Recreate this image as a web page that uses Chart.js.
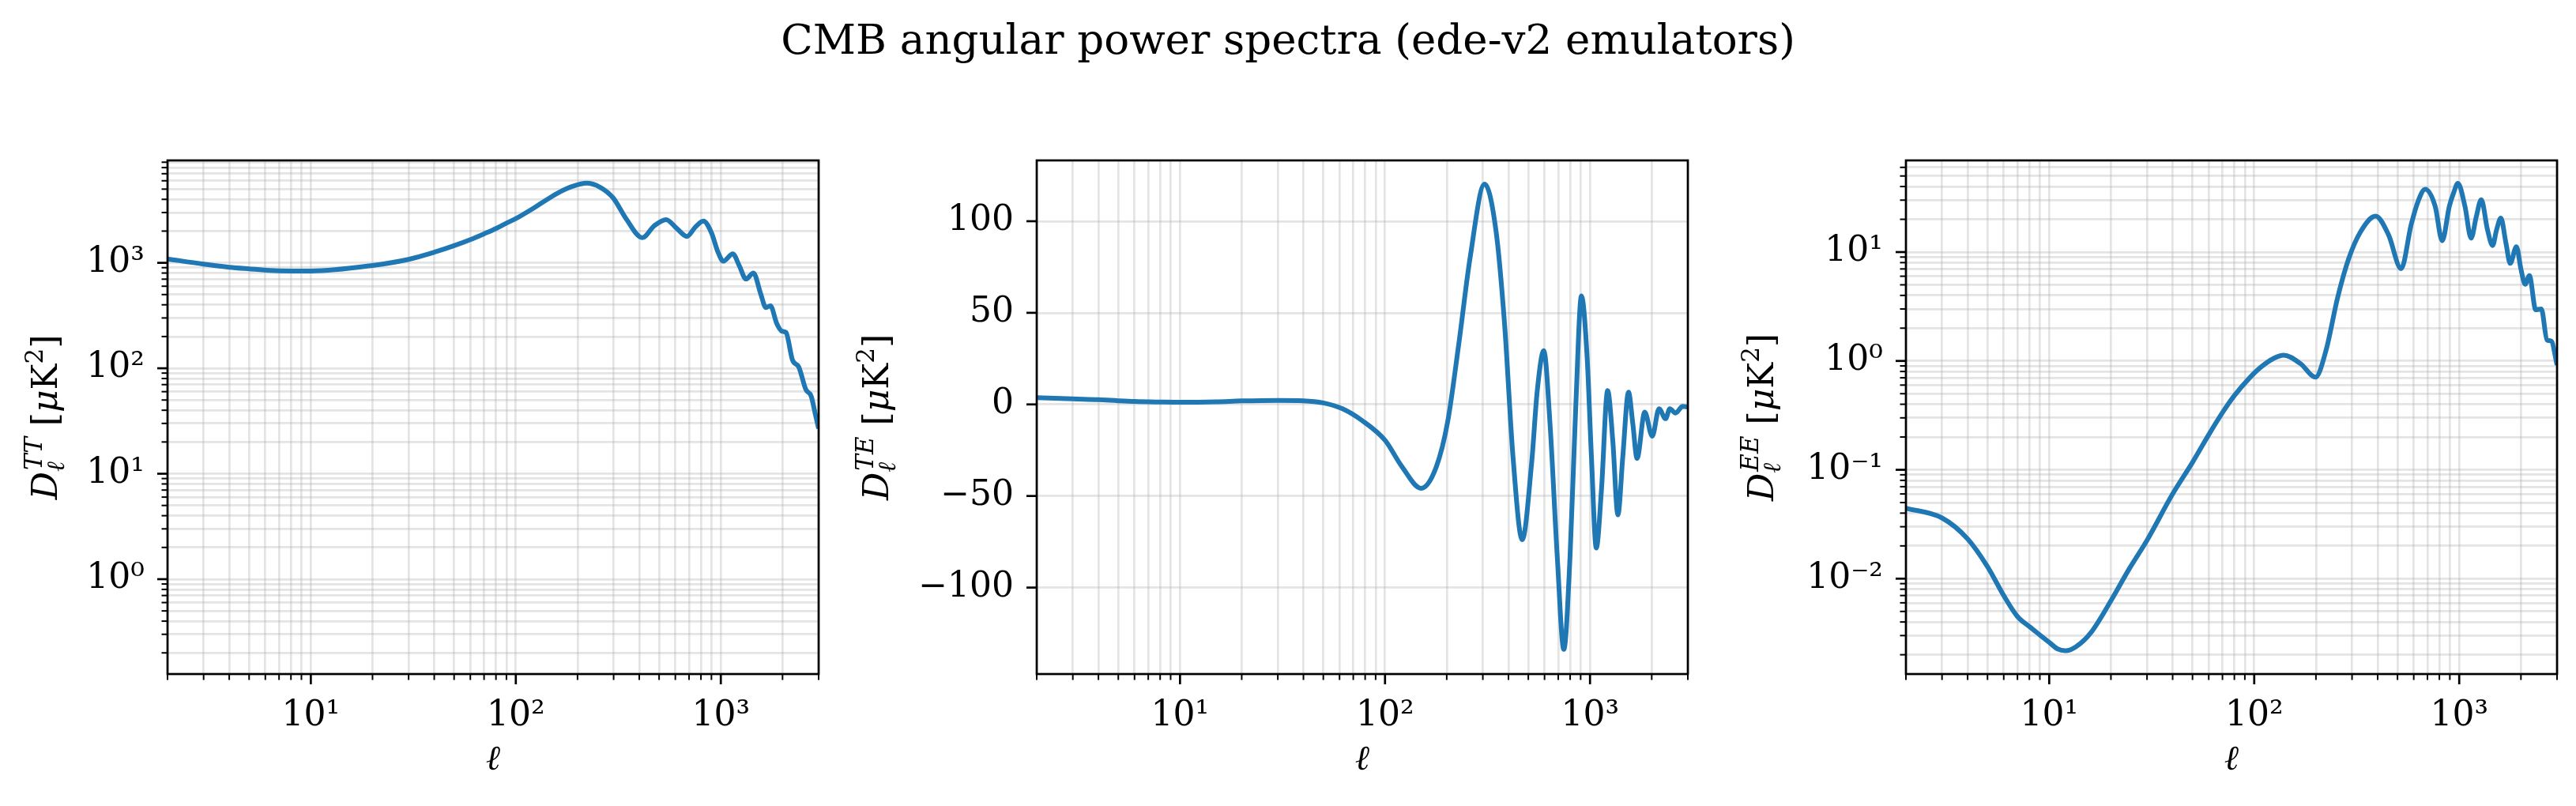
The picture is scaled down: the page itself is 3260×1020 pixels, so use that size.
<!DOCTYPE html>
<html>
<head>
<meta charset="utf-8">
<script src="https://cdn.jsdelivr.net/npm/chart.js@4.4.1/dist/chart.umd.min.js"></script>
<style>
  html, body { margin: 0; padding: 0; background: #fff; }
  #fig { position: relative; width: 3260px; height: 1020px; background: #fff; overflow: hidden; }
  #suptitle { position: absolute; left: 0; top: 23px; width: 3260px; text-align: center;
              font-family: 'DejaVu Serif'; font-size: 53px; line-height: 53px; color: #000; }
  .panel { position: absolute; top: 183px; width: 1114px; height: 837px; }
</style>
</head>
<body>
<div id="fig">
  <div id="suptitle">CMB angular power spectra (ede-v2 emulators)</div>
  <div class="panel" style="left:-48px"><canvas id="tt" width="1114" height="837"></canvas></div>
  <div class="panel" style="left:1052px"><canvas id="te" width="1114" height="837"></canvas></div>
  <div class="panel" style="left:2152px"><canvas id="ee" width="1114" height="837"></canvas></div>
</div>
<script>
// values
const ellTT = [2, 3, 4, 5, 7, 10, 20, 30, 40, 50, 60, 70, 80, 90, 100, 121.5, 141, 164, 190, 221, 257, 298, 346,
  414, 473, 541, 610, 683, 751, 822, 899, 970, 1029, 1143, 1231, 1327, 1443, 1564, 1660, 1746, 1871, 1986, 2078,
  2239, 2399, 2600, 2760, 2886, 3000];
const dTT = [1090, 973, 908, 878, 841, 837, 944, 1079, 1260, 1454, 1661, 1884, 2114, 2377, 2625, 3280, 3950, 4700, 5330, 5689, 5223, 4140, 2600,
  1730, 2244, 2571, 2119, 1780, 2183, 2495, 1941, 1256, 1037, 1219, 938, 702, 802, 510, 377, 392, 268, 225, 219,
  119, 103, 62.8, 54.3, 37.2, 26.8];

const ellTE = [2, 3, 4, 5, 6, 8, 10, 15, 20, 30, 40, 50, 62, 77, 100, 121, 150, 178, 202, 229, 260, 306, 348, 383,
  421, 467, 519, 553, 595, 638, 692, 745, 799, 852, 908, 968, 1016, 1073, 1137, 1219, 1291, 1368, 1445, 1541,
  1617, 1696, 1849, 2011, 2171, 2336, 2450, 2612, 2831, 3000];
const dTE = [3.7, 3.0, 2.6, 2.0, 1.6, 1.3, 1.15, 1.4, 1.9, 2.2, 2.0, 0.8, -2.4, -8.7, -19.6, -34, -45.8, -34, -9.6, 33, 80, 120.3, 94.6, 43.8,
  -28.6, -73.9, -32, 7.6, 29.3, -10.5, -83, -133.7, -83, -1.4, 59.2, 25.7, -28.6, -78.4, -46.7, 7.6, -19.6, -60.3, -28.6, 6.7,
  -10.5, -29.5, -4.2, -17.4, -2.4, -7.8, -2.4, -4.7, -1.1, -1.4];

const ellEE = [2, 3, 4, 5, 6, 7, 8, 9, 10, 11, 12, 13.5, 16, 20, 24.5, 30, 40, 50, 60, 70, 80, 95, 108, 125, 139, 168, 199,
  224, 255, 289, 329, 391, 452, 521, 583, 631, 682, 763, 826, 895, 938, 985, 1066, 1143, 1211, 1281, 1374, 1455, 1521,
  1596, 1690, 1773, 1901, 2000, 2098, 2200, 2361, 2515, 2680, 2812, 3000];
const dEE = [0.0444, 0.0361, 0.0232, 0.0129, 0.0070, 0.00449, 0.00363, 0.00304, 0.0026, 0.00226, 0.00218, 0.00237, 0.00321, 0.00627, 0.0122, 0.0225, 0.060, 0.117, 0.21, 0.335, 0.48, 0.70, 0.88, 1.06, 1.13, 0.946, 0.71,
  1.25, 3.79, 8.7, 15.2, 21.4, 14.4, 7.05, 17.9, 29.5, 37.8, 26.4, 12.7, 26.4, 34.8, 42.8, 26.4, 13.4, 21.1, 30.3, 16.0, 11.5, 16.0,
  20.5, 12.1, 7.87, 11.2, 6.97, 5.06, 6.07, 2.95, 3.0, 1.56, 1.52, 0.92];

// tick labels
const xTickValues = [10, 100, 1000];
const xTickLabels = ['10¹', '10²', '10³'];
const ttTickValues = [1, 10, 100, 1000];
const ttTickLabels = ['10⁰', '10¹', '10²', '10³'];
const teTickValues = [-100, -50, 0, 50, 100];
const teTickLabels = ['−100', '−50', '0', '50', '100'];
const eeTickValues = [0.01, 0.1, 1, 10];
const eeTickLabels = ['10⁻²', '10⁻¹', '10⁰', '10¹'];

const FONT = 'DejaVu Serif';
const BLUE = '#1f77b4';
const GRID = 'rgba(176,176,176,0.34)';
const YAXIS_W = 260;

function logTicks(min, max) {
  const out = [];
  for (let e = Math.floor(Math.log10(min)); e <= Math.ceil(Math.log10(max)); e++) {
    for (let k = 1; k <= 9; k++) {
      const v = k * Math.pow(10, e);
      if (v >= min * 0.9999 && v <= max * 1.0001) out.push(v);
    }
  }
  return out;
}

function labelFor(v, vals, labels) {
  const i = vals.findIndex(t => Math.abs(t - v) <= 1e-9 * Math.max(1, Math.abs(t)));
  return i >= 0 ? labels[i] : '';
}

function isMajor(v, vals) {
  return vals.some(t => Math.abs(t - v) <= 1e-9 * Math.max(1, Math.abs(t)));
}

// frame, tick marks and y label (mathtext style)
const decor = {
  id: 'decor',
  afterDraw(chart, args, opts) {
    const ctx = chart.ctx;
    const a = chart.chartArea;
    ctx.save();
    ctx.strokeStyle = '#000';
    const xs = chart.scales.x, ys = chart.scales.y;
    xs.ticks.forEach(t => {
      const p = xs.getPixelForValue(t.value);
      const maj = isMajor(t.value, opts.xMajors);
      ctx.lineWidth = maj ? 2.7 : 2;
      ctx.beginPath();
      ctx.moveTo(p, a.bottom);
      ctx.lineTo(p, a.bottom + (maj ? 13 : 7.5));
      ctx.stroke();
    });
    ys.ticks.forEach(t => {
      const p = ys.getPixelForValue(t.value);
      const maj = isMajor(t.value, opts.yMajors);
      ctx.lineWidth = maj ? 2.7 : 2;
      ctx.beginPath();
      ctx.moveTo(a.left, p);
      ctx.lineTo(a.left - (maj ? 13 : 7.5), p);
      ctx.stroke();
    });
    ctx.lineWidth = 2.7;
    ctx.strokeRect(a.left, a.top, a.right - a.left, a.bottom - a.top);

    // y label: D_l^{XX} [muK^2]
    const big = 44, small = 31;
    const rom = `${big}px '${FONT}'`, ita = `italic ${big}px '${FONT}'`;
    const sRom = `${small}px '${FONT}'`, sIta = `italic ${small}px '${FONT}'`;
    const parts = [
      { t: 'D', f: ita, dy: 0 },
      { stack: true },
      { t: ' [', f: rom, dy: 0 },
      { t: 'μ', f: ita, dy: 0 },
      { t: 'K', f: rom, dy: 0 },
      { t: '2', f: sRom, dy: -18 },
      { t: ']', f: rom, dy: 0 }
    ];
    let W = 0;
    parts.forEach(p => {
      if (p.stack) {
        ctx.font = sIta;
        p.w = Math.max(ctx.measureText('ℓ').width, ctx.measureText(opts.sup).width) + 2;
      } else {
        ctx.font = p.f;
        p.w = ctx.measureText(p.t).width;
      }
      W += p.w;
    });
    ctx.translate(a.left - opts.labelOffset, (a.top + a.bottom) / 2);
    ctx.rotate(-Math.PI / 2);
    ctx.fillStyle = '#000';
    ctx.textBaseline = 'alphabetic';
    ctx.textAlign = 'left';
    let x = -W / 2;
    parts.forEach(p => {
      if (p.stack) {
        ctx.font = sIta;
        ctx.fillText('ℓ', x, 9);
        ctx.fillText(opts.sup, x + 2, -19);
      } else {
        ctx.font = p.f;
        ctx.fillText(p.t, x, p.dy);
      }
      x += p.w;
    });
    ctx.restore();
  }
};

function xScale() {
  return {
    type: 'logarithmic', min: 2, max: 3000,
    afterBuildTicks: s => { s.ticks = logTicks(2, 3000).map(v => ({ value: v })); },
    afterFit: s => { s.height = 167; s.paddingLeft = 0; s.paddingRight = 0; },
    ticks: { autoSkip: false, maxRotation: 0, minRotation: 0, padding: 14, color: '#000',
             font: { family: FONT, size: 44 }, callback: v => labelFor(v, xTickValues, xTickLabels) },
    grid: { color: GRID, lineWidth: 2.7, tickLength: 13, tickColor: 'rgba(0,0,0,0)' },
    border: { display: false },
    title: { display: true, text: 'ℓ', color: '#000', font: { family: FONT, size: 44, style: 'italic' },
             padding: { top: 0, bottom: 31 } }
  };
}

function yScale(type, min, max, tickVals, vals, labels) {
  return {
    type, min, max,
    afterBuildTicks: s => { s.ticks = tickVals.map(v => ({ value: v })); },
    afterFit: s => { s.width = YAXIS_W; s.paddingTop = 0; s.paddingBottom = 0; },
    ticks: { autoSkip: false, padding: 16, color: '#000', font: { family: FONT, size: 44 },
             callback: v => labelFor(v, vals, labels) },
    grid: { color: GRID, lineWidth: 2.7, tickLength: 13, tickColor: 'rgba(0,0,0,0)' },
    border: { display: false }
  };
}

function makeChart(id, ell, vals, yConf, sup, yMajors, labelOffset) {
  return new Chart(document.getElementById(id), {
    type: 'line',
    data: {
      datasets: [{
        data: ell.map((l, i) => ({ x: l, y: vals[i] })),
        borderColor: BLUE,
        borderWidth: 6,
        pointRadius: 0,
        fill: false,
        cubicInterpolationMode: 'monotone'
      }]
    },
    options: {
      responsive: false,
      animation: false,
      devicePixelRatio: 1,
      layout: { padding: { left: 0, top: 20, right: 30, bottom: 0 } },
      scales: { x: xScale(), y: yConf },
      plugins: {
        legend: { display: false },
        tooltip: { enabled: false },
        decor: { sup, xMajors: xTickValues, yMajors, labelOffset }
      }
    },
    plugins: [decor]
  });
}

makeChart('tt', ellTT, dTT,
  yScale('logarithmic', 0.126, 9360, logTicks(0.126, 9360), ttTickValues, ttTickLabels),
  'TT', ttTickValues, 140);
makeChart('te', ellTE, dTE,
  yScale('linear', -147.2, 133.2, teTickValues, teTickValues, teTickLabels),
  'TE', teTickValues, 188);
makeChart('ee', ellEE, dEE,
  yScale('logarithmic', 0.00133, 69.5, logTicks(0.00133, 69.5), eeTickValues, eeTickLabels),
  'EE', eeTickValues, 168);
</script>
</body>
</html>
